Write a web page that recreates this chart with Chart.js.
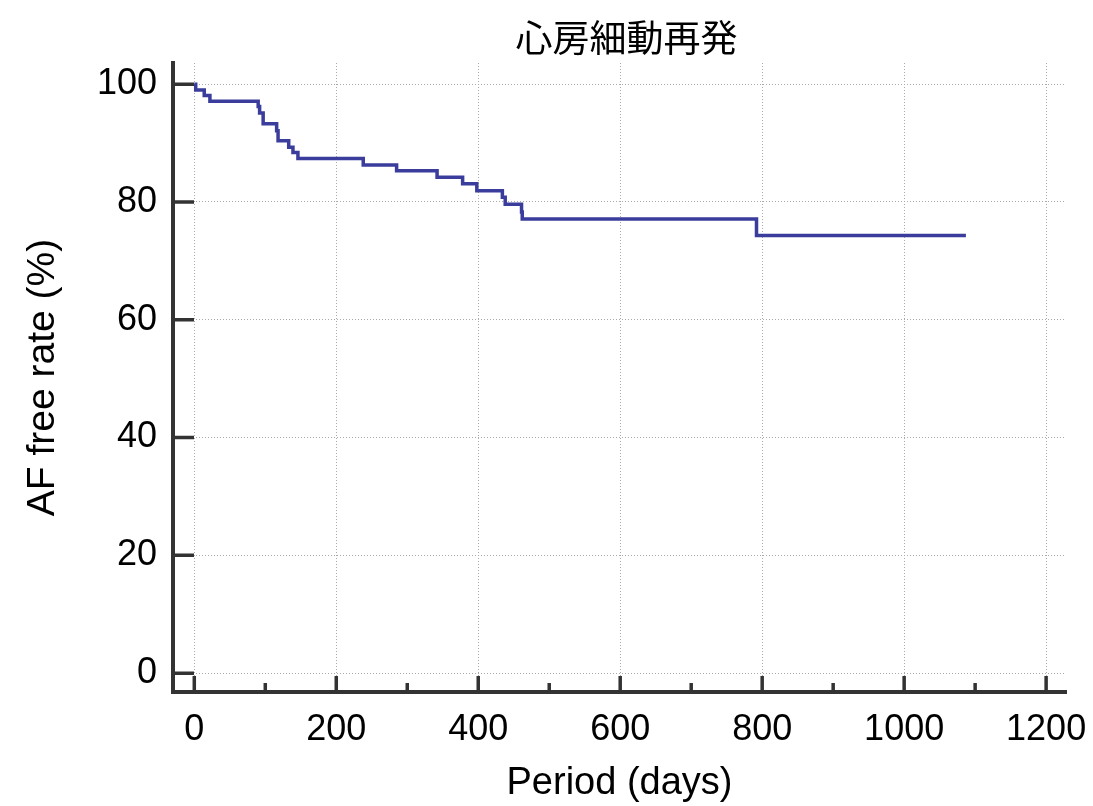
<!DOCTYPE html>
<html>
<head>
<meta charset="utf-8">
<script src="https://cdn.jsdelivr.net/npm/chart.js@4.4.1/dist/chart.umd.min.js"></script>
<style>
  html, body { margin: 0; padding: 0; background: #fff; }
  #wrap { width: 1093px; height: 806px; }
</style>
</head>
<body>
<div id="wrap"><canvas id="kmChart"></canvas></div>
<script>
// 生存曲線データ
const chartTitle = '心房細動再発';
const xTitle = 'Period (days)';
const yTitle = 'AF free rate (%)';
const days = [0, 2, 14, 22, 90, 92, 97, 116, 118, 133, 139, 146, 238, 285, 342, 378, 398, 434, 438, 461, 462, 792, 1087];
const afFree = [100, 99.0, 98.1, 97.1, 96.2, 95.1, 93.3, 92.1, 90.4, 89.3, 88.4, 87.4, 86.3, 85.3, 84.2, 83.1, 81.9, 80.8, 79.6, 78.3, 77.1, 74.3, 74.3];
const xTicks = [0, 200, 400, 600, 800, 1000, 1200];
const yTicks = [0, 20, 40, 60, 80, 100];

const points = days.map((d, i) => ({ x: d, y: afFree[i] }));

const axisColor = '#333333';
const fontFamily = '"Liberation Sans", Arial, sans-serif';

// 内向きの目盛りとタイトルを描く
const innerTicks = {
    id: 'innerTicks',
    afterDatasetsDraw(chart) {
        const { ctx, chartArea, scales } = chart;
        const xs = scales.x, ys = scales.y;
        ctx.save();
        ctx.strokeStyle = axisColor;
        ctx.lineWidth = 3.5;
        ctx.beginPath();
        xTicks.forEach(v => {
            const px = xs.getPixelForValue(v);
            ctx.moveTo(px, chartArea.bottom);
            ctx.lineTo(px, chartArea.bottom - 16);
            if (v + 100 <= xs.max) {
                const pm = xs.getPixelForValue(v + 100);
                ctx.moveTo(pm, chartArea.bottom);
                ctx.lineTo(pm, chartArea.bottom - 9);
            }
        });
        yTicks.forEach(v => {
            const py = ys.getPixelForValue(v);
            ctx.moveTo(chartArea.left, py);
            ctx.lineTo(chartArea.left + 21, py);
        });
        ctx.stroke();

        ctx.fillStyle = '#000';
        ctx.font = '37px "Noto Sans CJK JP", sans-serif';
        ctx.textAlign = 'center';
        ctx.textBaseline = 'middle';
        ctx.fillText(chartTitle, (chartArea.left + chartArea.right) / 2 + 7, 38);
        ctx.restore();
    }
};

const ctx = document.getElementById('kmChart').getContext('2d');
const chart = new Chart(ctx, {
    type: 'line',
    data: {
        datasets: [{
            label: yTitle,
            data: points,
            stepped: true,
            borderColor: '#3a3d9c',
            borderWidth: 3.5,
            pointRadius: 0,
            fill: false
        }]
    },
    options: {
        responsive: true,
        maintainAspectRatio: false,
        animation: false,
        layout: {
            padding: { top: 63, right: 27, left: 0, bottom: 0 }
        },
        plugins: {
            legend: { display: false },
            tooltip: { enabled: false }
        },
        scales: {
            x: {
                type: 'linear',
                min: -30,
                max: 1228,
                afterFit: s => { s.height = 114; s.paddingLeft = 0; s.paddingRight = 0; },
                afterBuildTicks: s => { s.ticks = xTicks.map(v => ({ value: v })); },
                ticks: {
                    color: '#000',
                    padding: 16,
                    font: { family: fontFamily, size: 36 },
                    callback: v => String(v)
                },
                grid: {
                    color: '#aaaaaa',
                    lineWidth: 1,
                    drawTicks: false
                },
                border: { display: true, color: axisColor, width: 4, dash: [1, 2] },
                title: {
                    display: true,
                    text: xTitle,
                    color: '#000',
                    padding: { top: 0, bottom: 0 },
                    font: { family: fontFamily, size: 38 }
                }
            },
            y: {
                min: -3.2,
                max: 103.6,
                afterFit: s => { s.width = 173; },
                afterBuildTicks: s => { s.ticks = yTicks.map(v => ({ value: v })); },
                ticks: {
                    color: '#000',
                    padding: 16,
                    font: { family: fontFamily, size: 36 },
                    callback: v => String(v)
                },
                grid: {
                    color: '#aaaaaa',
                    lineWidth: 1,
                    drawTicks: false
                },
                border: { display: true, color: axisColor, width: 4, dash: [1, 2] },
                title: {
                    display: true,
                    text: yTitle,
                    color: '#000',
                    padding: { top: 20, bottom: 0 },
                    font: { family: fontFamily, size: 39 }
                }
            }
        }
    },
    plugins: [innerTicks]
});
</script>
</body>
</html>
